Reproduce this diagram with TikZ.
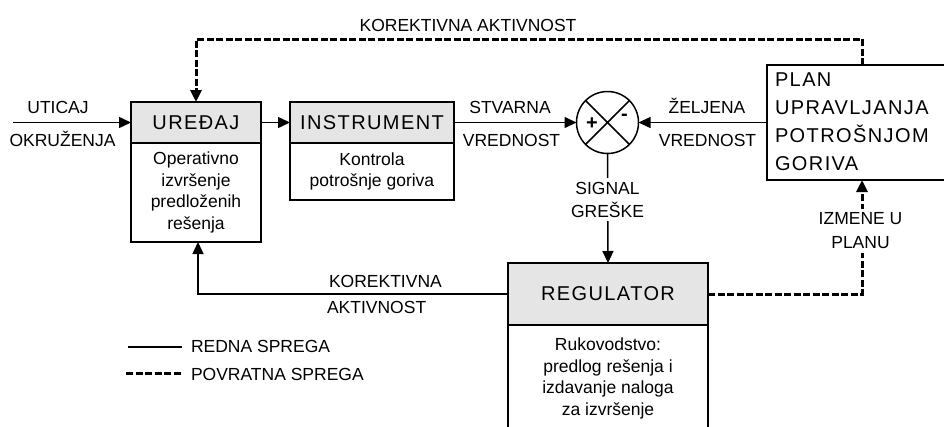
\documentclass[tikz,border=0pt]{standalone}
\usepackage{fontspec}
\setmainfont{Liberation Sans}
\newfontfamily\spacedfont[LetterSpace=7]{Liberation Sans}
\usetikzlibrary{arrows.meta}
\begin{document}
\begin{tikzpicture}[x=1pt,y=-1pt,
  every node/.style={inner sep=0pt, outer sep=0pt},
  lbl/.style={anchor=base, font=\fontsize{17.5}{24}\selectfont},
  lblw/.style={anchor=base west, font=\fontsize{17.5}{24}\selectfont},
  cut/.style={fill=white, align=center, inner xsep=2pt, inner ysep=4pt, anchor=north},
  hdr/.style={draw, line width=1.5pt, fill=black!10, anchor=north west,
              font=\spacedfont\fontsize{20}{24}\selectfont},
  bodybox/.style={draw, line width=1.5pt, fill=white, align=center, anchor=north west,
              font=\fontsize{17.5}{21.7}\selectfont},
  fwd/.style={line width=1.5pt, -{Triangle[length=12pt,width=11pt]}},
  fb/.style={line width=3pt, dash pattern=on 7pt off 2.5pt, -{Triangle[length=12pt,width=11pt]}},
  fbplain/.style={line width=3pt, dash pattern=on 7pt off 2.5pt},
]
\useasboundingbox (0,0) rectangle (944,426);
\clip (0,0) rectangle (944,426);

% boxes
\node[bodybox, minimum width=130pt, minimum height=99pt] (uredB) at (131,143)
  {Operativno\\izvršenje\\predloženih\\rešenja};
\node[hdr, minimum width=130pt, minimum height=41pt] (uredH) at (131,102) {UREĐAJ};

\node[bodybox, minimum width=164pt, minimum height=57pt] (instB) at (290,143)
  {Kontrola\\potrošnje goriva};
\node[hdr, minimum width=164pt, minimum height=41pt] (instH) at (290,102) {INSTRUMENT};

\node[bodybox, minimum width=200pt, minimum height=107pt] (regB) at (508,325)
  {Rukovodstvo:\\predlog rešenja i\\izdavanje naloga\\za izvršenje};
\node[hdr, minimum width=200pt, minimum height=62pt] (regH) at (508,263) {REGULATOR};

\node[draw, line width=1.5pt, minimum width=200pt, minimum height=115pt, anchor=north west] (plan) at (767,65) {};
\node[anchor=north west, align=left, font=\spacedfont\fontsize{20}{28}\selectfont] (plantext) at (775,72.5)
  {PLAN\\UPRAVLJANJA\\POTROŠNJOM\\GORIVA};

% comparator
\node[draw, circle, line width=1.5pt, minimum size=62pt] (cmp) at (607.5,122.5) {};
\draw[line width=1.5pt] (cmp.north west) -- (cmp.south east) (cmp.north east) -- (cmp.south west);
\node[font=\bfseries\fontsize{20}{24}\selectfont] (plus) at (592,124) {+};
\node[font=\bfseries\fontsize{20}{24}\selectfont] (minus) at (624.5,117) {-};

% forward connectors
\coordinate (in) at (13,122.5);
\draw[fwd] (in) -- (uredH.west);
\draw[fwd] (uredH.east) -- (instH.west);
\draw[fwd] (instH.east) -- (cmp.west);
\draw[fwd] (plan.west) -- (cmp.east);
\draw[fwd] (cmp.south) -- (regH.north);
\draw[fwd] (regH.west) -| ([xshift=2pt]uredB.south);

% feedback connectors
\draw[fb] ([xshift=95pt]plan.north west) -- ++(0,-26) -| (uredH.north);
\draw[fb] (regH.east) -| ([xshift=95pt]plan.south west);

% labels
\node[lbl] (l1) at (58,113.3) {UTICAJ};
\node[lbl] (l2) at (62.5,146) {OKRUŽENJA};
\node[lbl] (l3) at (510,113.3) {STVARNA};
\node[lbl] (l4) at (511.5,146) {VREDNOST};
\node[lbl] (l5) at (707,113.3) {ŽELJENA};
\node[lbl] (l6) at (707.5,146) {VREDNOST};
\node[lbl] (l7) at (468,31.5) {KOREKTIVNA AKTIVNOST};
\node[lblw] (l8) at (329,287) {KOREKTIVNA};
\node[lblw] (l9) at (327,313) {AKTIVNOST};
\node[cut, font=\fontsize{17.5}{23}\selectfont] (sig) at (607.5,178) {SIGNAL\\GREŠKE};
\node[cut, font=\fontsize{17.5}{24}\selectfont] (izm) at (860.5,208.5) {IZMENE U\\PLANU};

% legend
\coordinate (s1) at (128,347);
\coordinate (s2) at (182,347);
\coordinate (d1) at (126,373);
\coordinate (d2) at (182,373);
\draw[line width=1.5pt] (s1) -- (s2);
\draw[fbplain] (d1) -- (d2);
\node[lblw] (leg1) at (191,352) {REDNA SPREGA};
\node[lblw] (leg2) at (191,380) {POVRATNA SPREGA};
\end{tikzpicture}
\end{document}
